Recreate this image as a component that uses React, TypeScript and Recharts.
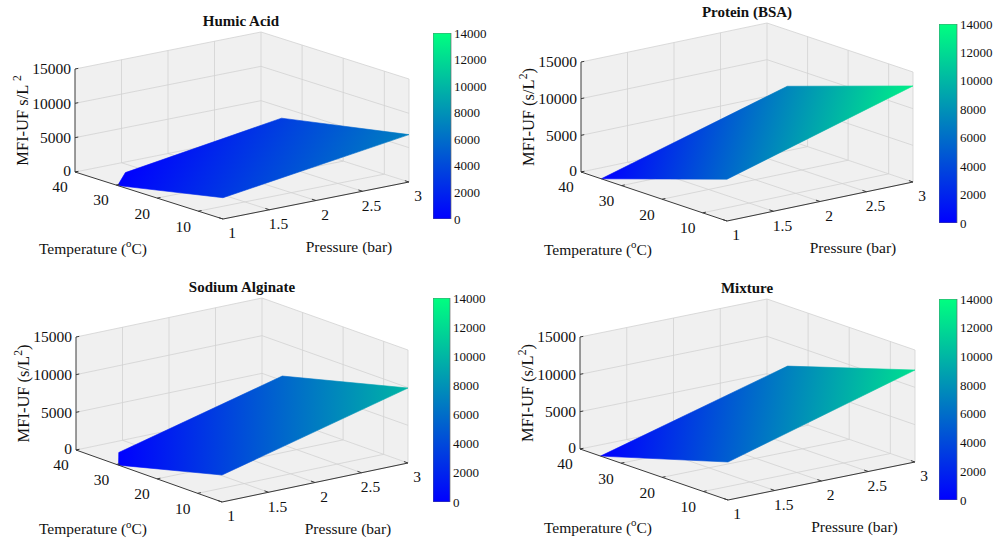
import React from "react";
import { ScatterChart, Scatter, XAxis, YAxis, BarChart, Bar } from "recharts";

const FONT = '"Liberation Serif", "Times New Roman", serif';

// axis ticks
const pressureTicks = [1, 1.5, 2, 2.5, 3];
const temperatureTicks = [40, 30, 20, 10];
const mfiTicks = [0, 5000, 10000, 15000];
const colorbarTicks = [0, 2000, 4000, 6000, 8000, 10000, 12000, 14000];

// axis limits
const P_LIM = [1, 3];
const T_LIM = [4, 40];
const Z_LIM = [0, 15000];
const C_LIM = [0, 14000];

// surface grid: rows = pressure, columns = temperature (MFI-UF, s/L^2)
const gridPressure = [1, 3];
const gridTemperature = [4, 35];
const humicAcid = [
  [3100, -650],
  [6900, 3400],
];
const proteinBSA = [
  [5700, 0],
  [13100, 7300],
];
const sodiumAlginate = [
  [3580, -770],
  [9950, 5600],
];
const mixture = [
  [5090, 0],
  [12320, 6960],
];

const colorbarData = [{ name: "MFI", value: C_LIM[1] }];

const WALL = "#f0f0f0";
const GRID = "#d2d2d2";
const AXIS = "#3a3a3a";
const LOW = "#0000ff"; // winter colormap ends
const HIGH = "#00ff80";

const PW = 497;
const PH = 271;

// projection layout of each 3-D box (page pixels)
const panels = [
  { title: "Humic Acid", mfi: humicAcid, parens: false, left: 0, top: 0, origin: [75, 172], pVec: [186, -37], tVec: [148, 47], zLen: 103, bar: [433, 33, 18, 186] },
  { title: "Protein (BSA)", mfi: proteinBSA, parens: true, left: 496, top: 0, origin: [581, 172], pVec: [186, -39], tVec: [146, 49], zLen: 110, bar: [939, 24, 18, 199] },
  { title: "Sodium Alginate", mfi: sodiumAlginate, parens: true, left: 0, top: 270, origin: [76, 450], pVec: [186, -39], tVec: [146, 52], zLen: 113, bar: [433, 298, 17, 204] },
  { title: "Mixture", mfi: mixture, parens: true, left: 496, top: 270, origin: [580, 449], pVec: [187, -38], tVec: [148, 51], zLen: 112, bar: [939, 299, 18, 201] },
];

const noShape = () => <g />;

const polygonLine = (fill: string) => (lp: any) => {
  const pts = lp.points || [];
  const d = pts.map((pt: any, i: number) => `${i ? "L" : "M"}${pt.x},${pt.y}`).join(" ") + " Z";
  return <path d={d} fill={fill} stroke="none" />;
};

const segmentLine = (stroke: string, width: number) => (lp: any) => {
  const pts = lp.points || [];
  let d = "";
  for (let i = 0; i + 1 < pts.length; i += 2) {
    d += `M${pts[i].x},${pts[i].y}L${pts[i + 1].x},${pts[i + 1].y}`;
  }
  return <path d={d} stroke={stroke} strokeWidth={width} fill="none" />;
};

// surface polygon filled with a gradient along the MFI value (z is affine on a plane)
const surfaceLine = (id: string, zs: number[]) => (lp: any) => {
  const pts = lp.points || [];
  const n = pts.length;
  let mx = 0, my = 0, mz = 0;
  pts.forEach((p: any, i: number) => { mx += p.x; my += p.y; mz += zs[i]; });
  mx /= n; my /= n; mz /= n;
  let sxx = 0, syy = 0, sxy = 0, sxz = 0, syz = 0;
  pts.forEach((p: any, i: number) => {
    const dx = p.x - mx, dy = p.y - my, dz = zs[i] - mz;
    sxx += dx * dx; syy += dy * dy; sxy += dx * dy; sxz += dx * dz; syz += dy * dz;
  });
  const det = sxx * syy - sxy * sxy || 1;
  const a = (sxz * syy - syz * sxy) / det;
  const b = (syz * sxx - sxz * sxy) / det;
  const g2 = a * a + b * b || 1;
  const x1 = mx + (a * (C_LIM[0] - mz)) / g2;
  const y1 = my + (b * (C_LIM[0] - mz)) / g2;
  const x2 = mx + (a * (C_LIM[1] - mz)) / g2;
  const y2 = my + (b * (C_LIM[1] - mz)) / g2;
  const d = pts.map((pt: any, i: number) => `${i ? "L" : "M"}${pt.x},${pt.y}`).join(" ") + " Z";
  return (
    <g>
      <defs>
        <linearGradient id={id} gradientUnits="userSpaceOnUse" x1={x1} y1={y1} x2={x2} y2={y2}>
          <stop offset="0" stopColor={LOW} />
          <stop offset="1" stopColor={HIGH} />
        </linearGradient>
      </defs>
      <path d={d} fill={`url(#${id})`} stroke={`url(#${id})`} strokeWidth={0.6} />
    </g>
  );
};

const renderLabel = (props: any) => {
  const { cx, cy, payload } = props;
  const { label, sup, after, size, bold, anchor, rotate } = payload;
  return (
    <text
      x={cx}
      y={cy}
      dy="0.35em"
      textAnchor={anchor || "middle"}
      fontFamily={FONT}
      fontSize={size}
      fontWeight={bold ? "bold" : "normal"}
      fill="#111"
      transform={rotate ? `rotate(${rotate} ${cx} ${cy})` : undefined}
    >
      {label}
      {sup ? (
        <tspan dy={-size * 0.42} fontSize={size * 0.7}>
          {sup}
        </tspan>
      ) : null}
      {sup && after ? <tspan dy={size * 0.42}>{after}</tspan> : null}
    </text>
  );
};

// keep only the part of the surface above the MFI axis floor
function clipToFloor(poly: { p: number; t: number; z: number }[]) {
  const out: { p: number; t: number; z: number }[] = [];
  for (let i = 0; i < poly.length; i++) {
    const a = poly[i];
    const b = poly[(i + 1) % poly.length];
    const ina = a.z >= Z_LIM[0];
    const inb = b.z >= Z_LIM[0];
    if (ina) out.push(a);
    if (ina !== inb) {
      const f = (a.z - Z_LIM[0]) / (a.z - b.z);
      out.push({ p: a.p + f * (b.p - a.p), t: a.t + f * (b.t - a.t), z: Z_LIM[0] });
    }
  }
  return out;
}

function Panel({ cfg, idx }: { cfg: any; idx: number }) {
  const [P0, P1] = P_LIM;
  const [T0, T1] = T_LIM;
  const [Z0, Z1] = Z_LIM;
  const proj = (p: number, t: number, z: number) => {
    const fp = (p - P0) / (P1 - P0);
    const ft = (T1 - t) / (T1 - T0);
    const fz = (z - Z0) / (Z1 - Z0);
    return {
      x: cfg.origin[0] - cfg.left + cfg.pVec[0] * fp + cfg.tVec[0] * ft,
      y: cfg.origin[1] - cfg.top + cfg.pVec[1] * fp + cfg.tVec[1] * ft - cfg.zLen * fz,
    };
  };
  const seg = (a: number[], b: number[]) => [proj(a[0], a[1], a[2]), proj(b[0], b[1], b[2])];

  const walls = [
    [proj(P0, T1, Z0), proj(P0, T0, Z0), proj(P1, T0, Z0), proj(P1, T1, Z0)],
    [proj(P0, T1, Z0), proj(P1, T1, Z0), proj(P1, T1, Z1), proj(P0, T1, Z1)],
    [proj(P1, T1, Z0), proj(P1, T0, Z0), proj(P1, T0, Z1), proj(P1, T1, Z1)],
  ];

  const gridSegs: any[] = [];
  pressureTicks.slice(1).forEach((p) => {
    gridSegs.push(...seg([p, T1, Z0], [p, T0, Z0]));
    gridSegs.push(...seg([p, T1, Z0], [p, T1, Z1]));
  });
  [...temperatureTicks.slice(1), T0].forEach((t) => {
    gridSegs.push(...seg([P0, t, Z0], [P1, t, Z0]));
    gridSegs.push(...seg([P1, t, Z0], [P1, t, Z1]));
  });
  mfiTicks.slice(1).forEach((z) => {
    gridSegs.push(...seg([P0, T1, z], [P1, T1, z]));
    gridSegs.push(...seg([P1, T1, z], [P1, T0, z]));
  });
  gridSegs.push(...seg([P0, T1, Z0], [P1, T1, Z0]));

  const axisSegs = [
    ...seg([P0, T1, Z0], [P0, T1, Z1]),
    ...seg([P0, T1, Z0], [P0, T0, Z0]),
    ...seg([P0, T0, Z0], [P1, T0, Z0]),
  ];
  const tickSegs: any[] = [];
  mfiTicks.forEach((z) => tickSegs.push(...seg([P0, T1, z], [P0 + 0.035, T1, z])));
  temperatureTicks.forEach((t) => tickSegs.push(...seg([P0, t, Z0], [P0 + 0.035, t, Z0])));
  pressureTicks.forEach((p) => tickSegs.push(...seg([p, T0, Z0], [p, T0 + 1, Z0])));

  const corners = [
    { p: gridPressure[0], t: gridTemperature[1], z: cfg.mfi[0][1] },
    { p: gridPressure[0], t: gridTemperature[0], z: cfg.mfi[0][0] },
    { p: gridPressure[1], t: gridTemperature[0], z: cfg.mfi[1][0] },
    { p: gridPressure[1], t: gridTemperature[1], z: cfg.mfi[1][1] },
  ];
  const surface = clipToFloor(corners);
  const surfacePts = surface.map((c) => proj(c.p, c.t, c.z));
  const surfaceZ = surface.map((c) => c.z);

  const shift = (pt: { x: number; y: number }, dx: number, dy: number) => ({ x: pt.x + dx, y: pt.y + dy });
  const labels: any[] = [];
  temperatureTicks.forEach((t) => labels.push({ ...shift(proj(P0, t, Z0), -15, 15), label: String(t), size: 15.5 }));
  pressureTicks.forEach((p) => labels.push({ ...shift(proj(p, T0, Z0), 9, 14), label: String(p), size: 15.5 }));
  mfiTicks.forEach((z) => labels.push({ ...shift(proj(P0, T1, z), -4, z === Z0 ? -1 : 0), label: String(z), size: 15.5, anchor: "end" }));
  labels.push({ ...shift(proj(P1, T1, Z1), -20, -11), label: cfg.title, size: 15, bold: true });
  labels.push({ ...shift(proj(P0, (T0 + T1) / 2, Z0), -56, 53), label: "Temperature (", sup: "o", after: "C)", size: 15.5 });
  labels.push({ ...shift(proj((P0 + P1) / 2, T0, Z0), 33, 46), label: "Pressure (bar)", size: 15.5 });
  labels.push({
    ...shift(proj(P0, T1, (Z0 + Z1) / 2), -53, 0),
    label: cfg.parens ? "MFI-UF (s/L" : "MFI-UF s/L ",
    sup: "2",
    after: cfg.parens ? ")" : "",
    size: 16.5,
    rotate: -90,
  });

  return (
    <div style={{ position: "absolute", left: cfg.left, top: cfg.top }}>
      <ScatterChart width={PW} height={PH} margin={{ top: 0, right: 0, bottom: 0, left: 0 }}>
        <XAxis type="number" dataKey="x" domain={[0, PW]} hide allowDataOverflow />
        <YAxis type="number" dataKey="y" domain={[0, PH]} reversed hide allowDataOverflow />
        {walls.map((w, i) => (
          <Scatter key={`wall-${i}`} data={w} line={polygonLine(WALL)} lineType="joint" shape={noShape} isAnimationActive={false} />
        ))}
        <Scatter data={gridSegs} line={segmentLine(GRID, 0.8)} shape={noShape} isAnimationActive={false} />
        <Scatter data={surfacePts} line={surfaceLine(`surf-${idx}`, surfaceZ)} shape={noShape} isAnimationActive={false} />
        <Scatter data={axisSegs} line={segmentLine(AXIS, 1)} shape={noShape} isAnimationActive={false} />
        <Scatter data={tickSegs} line={segmentLine(AXIS, 1)} shape={noShape} isAnimationActive={false} />
        <Scatter data={labels} shape={renderLabel} isAnimationActive={false} />
      </ScatterChart>
    </div>
  );
}

function Colorbar({ bar }: { bar: number[] }) {
  const [x, y, w, h] = bar;
  const pad = 9;
  return (
    <div style={{ position: "absolute", left: x, top: y - pad }}>
      <BarChart width={w + 36} height={h + 2 * pad} data={colorbarData} margin={{ top: pad, bottom: pad, left: 0, right: 0 }} barCategoryGap={0}>
        <XAxis dataKey="name" hide />
        <YAxis
          orientation="right"
          type="number"
          domain={C_LIM}
          ticks={colorbarTicks}
          interval={0}
          width={36}
          axisLine={false}
          tickLine={false}
          tickSize={0}
          tickMargin={3}
          allowDataOverflow
          tick={{ fontSize: 13, fontFamily: FONT, fill: "#111" }}
        />
        <Bar dataKey="value" fill="url(#winter-cb)" stroke="#6a6a6a" strokeWidth={0.7} isAnimationActive={false} />
      </BarChart>
    </div>
  );
}

export default function App() {
  return (
    <div style={{ position: "absolute", left: 0, top: 0, width: 993, height: 541, background: "#fff", overflow: "hidden" }}>
      <svg width={0} height={0} style={{ position: "absolute" }}>
        <defs>
          <linearGradient id="winter-cb" x1="0" y1="1" x2="0" y2="0">
            <stop offset="0" stopColor={LOW} />
            <stop offset="1" stopColor={HIGH} />
          </linearGradient>
        </defs>
      </svg>
      {panels.map((cfg, i) => (
        <Panel key={cfg.title} cfg={cfg} idx={i} />
      ))}
      {panels.map((cfg) => (
        <Colorbar key={`cb-${cfg.title}`} bar={cfg.bar} />
      ))}
    </div>
  );
}
